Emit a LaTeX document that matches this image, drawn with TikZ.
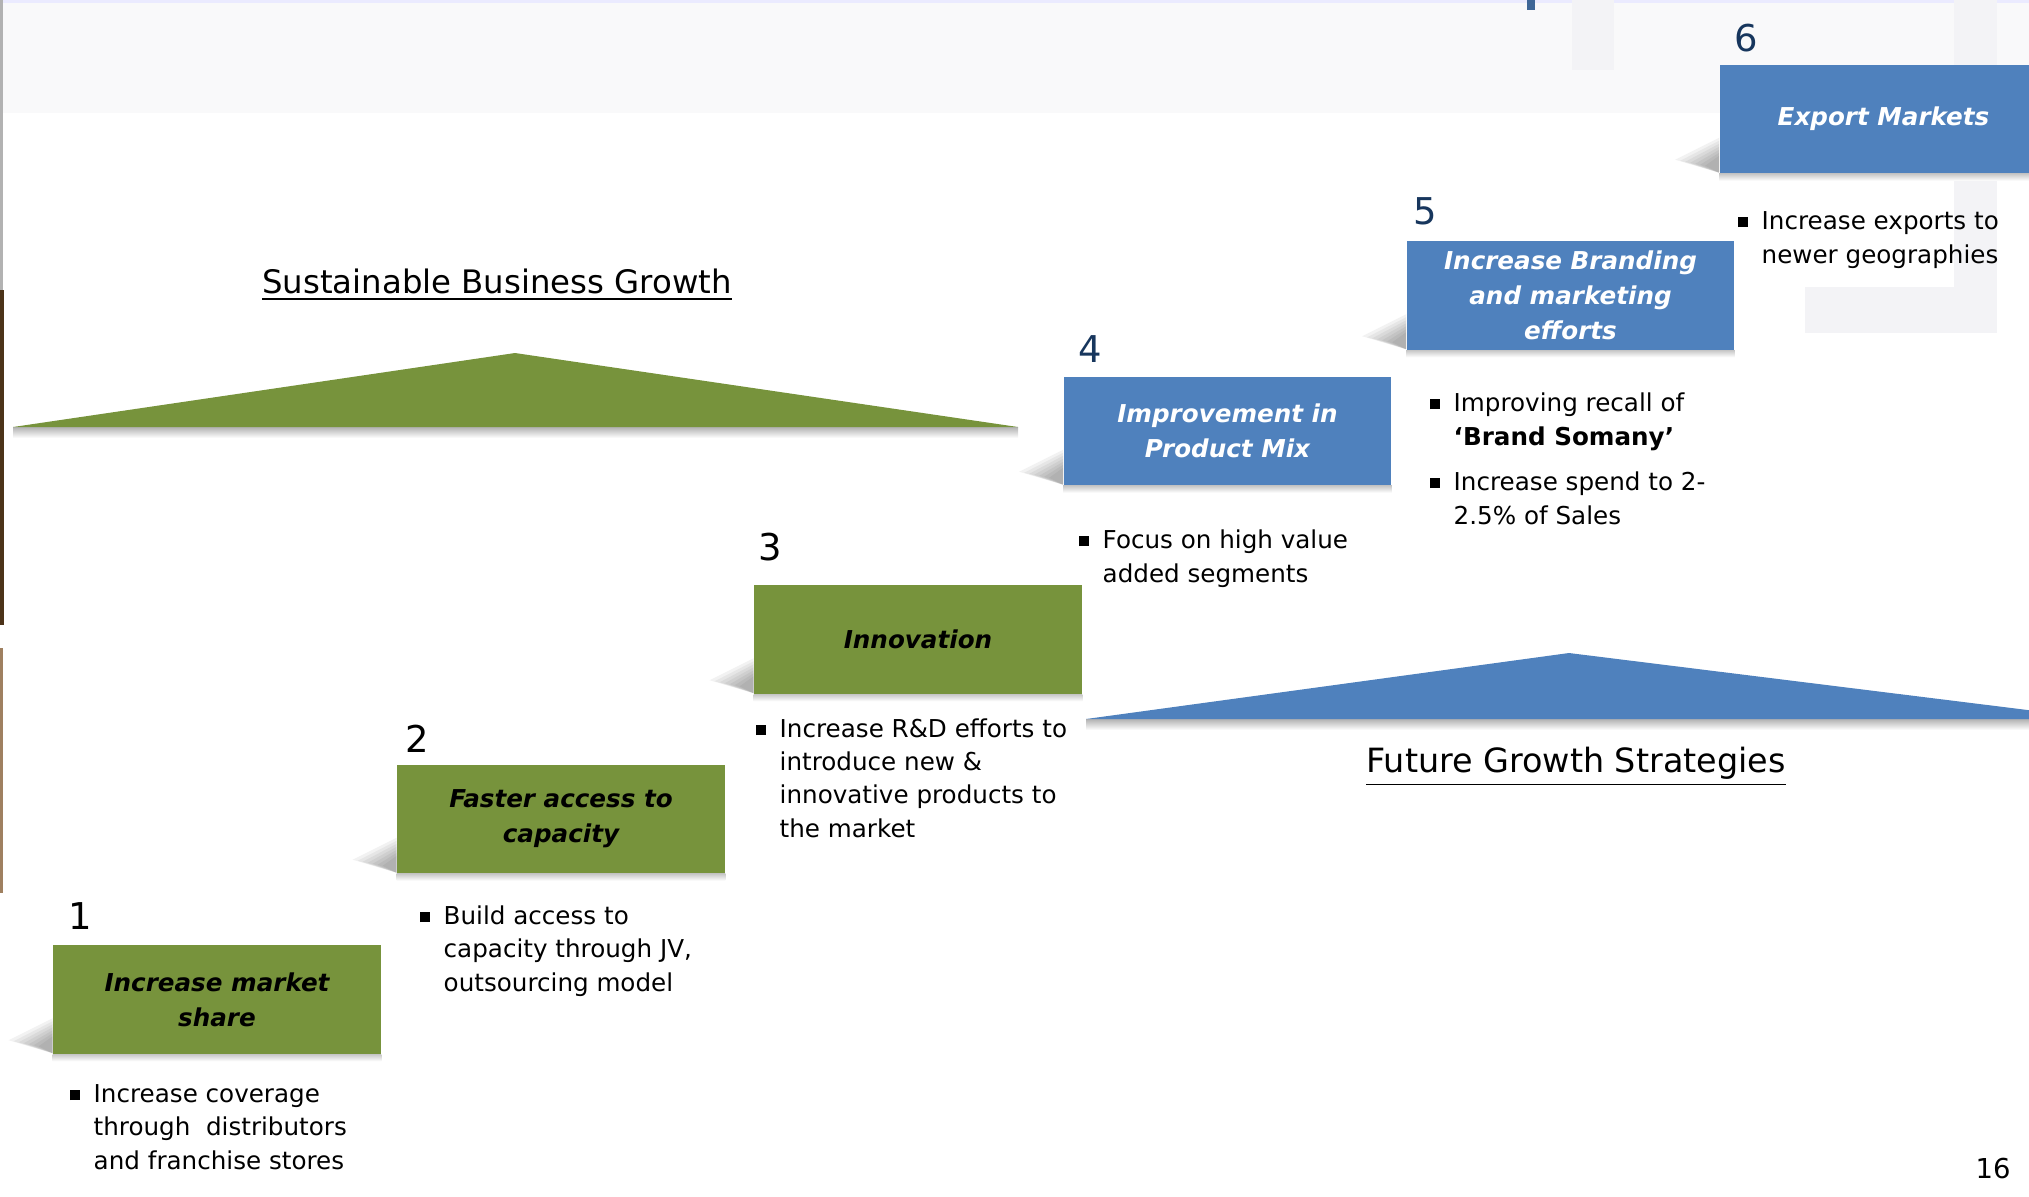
\documentclass[tikz,border=0pt]{standalone}
\usepackage{fontspec}
\setmainfont{DejaVu Sans}
\usetikzlibrary{calc}

\definecolor{stepgreen}{HTML}{77933C}
\definecolor{stepblue}{HTML}{4F81BD}
\definecolor{numblue}{HTML}{17365D}
\definecolor{bandgray}{HTML}{F9F9FA}
\definecolor{framegray}{HTML}{F3F3F6}

% square bullet hanging in the left margin of an item
\newcommand{\sqbullet}{\llap{\rule[0.8pt]{2.8pt}{2.8pt}\hspace{4pt}}}

% soft cast shadow left of a step box
\newcommand{\stepshadow}[1]{%
  \foreach \k in {0,...,6}{
    \fill[black, opacity=0.05]
      ($(#1.south west)+(0,-36+3*\k)$) -- ($(#1.south west)+(-44+5*\k,-14+\k)$)
      -- ($(#1.south west)+(0,-1)$) -- cycle;
  }
  \shade[top color=black!22, bottom color=white]
    (#1.south west) rectangle ($(#1.south east)+(0,7)$);
}

\begin{document}
\begin{tikzpicture}[x=0.01cm, y=-0.01cm]
   \tikzset{
      StepBox/.style={rectangle, minimum width=3.27cm, minimum height=1.08cm,
         inner sep=0pt, align=center,
         font=\fontsize{7pt}{10pt}\selectfont\bfseries\itshape},
      GreenStep/.style={StepBox, fill=stepgreen, text=black},
      BlueStep/.style={StepBox, fill=stepblue, text=white},
      StepNum/.style={inner sep=0pt, font=\fontsize{10.5pt}{12pt}\selectfont},
      % anchored on the baseline of the last line
      BulletText/.style={anchor=base west, align=left, inner sep=0pt,
         font=\fontsize{7pt}{9.4pt}\selectfont},
      Heading/.style={inner sep=0pt, font=\fontsize{9.2pt}{11pt}\selectfont}
   }
   \useasboundingbox (0,0) rectangle (2029,1196);

   % page background
   \fill[bandgray] (0,0) rectangle (2029,113);
   \fill[blue!8] (0,0) rectangle (2029,3);
   \fill[stepblue!80!black] (1527,0) rectangle (1535,10);
   \fill[framegray] (1572,0) rectangle (1614,70);
   \fill[framegray] (1954,0) rectangle (1997,290);
   \fill[framegray] (1805,287) rectangle (1997,333);
   \fill[gray!60] (0,0) rectangle (3,290);
   \fill[brown!40!black] (0,290) rectangle (4,625);
   \fill[brown!50!gray] (0,648) rectangle (3,893);

   % growth triangles
   \shade[top color=black!30, bottom color=white] (13,427) rectangle (1018,438);
   \fill[stepgreen] (13,427) -- (515,353) -- (1018,427) -- cycle;
   \shade[top color=black!30, bottom color=white] (1086,719) rectangle (2029,730);
   \fill[stepblue] (1086,719) -- (1569,653) -- (2100,719) -- cycle;

   \node[Heading] (sbg) at (497,285) {\underline{Sustainable Business Growth}};
   \node[Heading, font=\fontsize{9.5pt}{11pt}\selectfont] (fgs) at (1576,767)
      {\underline{Future Growth Strategies}};

   % the six steps
   \node[GreenStep] (s1) at (217,999.5) {Increase market\\share};
   \node[GreenStep] (s2) at (561,819) {Faster access to\\capacity};
   \node[GreenStep] (s3) at (918,639.5) {Innovation};
   \node[BlueStep] (s4) at (1227.5,431) {Improvement in\\Product Mix};
   \node[BlueStep] (s5) at (1570.5,295.5) {Increase Branding\\and marketing\\efforts};
   \node[BlueStep] (s6) at (1883.5,119) {Export Markets};
   \foreach \s in {s1,s2,s3,s4,s5,s6}
      \stepshadow{\s};

   \node[StepNum] (n1) at (80,916) {1};
   \node[StepNum] (n2) at (417,739) {2};
   \node[StepNum] (n3) at (770,547) {3};
   \node[StepNum, text=numblue] (n4) at (1090,349) {4};
   \node[StepNum, text=numblue] (n5) at (1425,211) {5};
   \node[StepNum, text=numblue] (n6) at (1746,38) {6};

   % bullet points under each step
   \node[BulletText] (t1) at (93,1169)
      {\sqbullet Increase coverage\\through~ distributors\\and franchise stores};
   \node[BulletText] (t2) at (443,991)
      {\sqbullet Build access to\\capacity through JV,\\outsourcing model};
   \node[BulletText] (t3) at (779,837)
      {\sqbullet Increase R\&D efforts to\\introduce new \&\\innovative products to\\the market};
   \node[BulletText] (t4) at (1102,582)
      {\sqbullet Focus on high value\\added segments};
   \node[BulletText] (t5a) at (1453,445)
      {\sqbullet Improving recall of\\\textbf{‘Brand Somany’}};
   \node[BulletText] (t5b) at (1453,524)
      {\sqbullet Increase spend to 2-\\2.5\% of Sales};
   \node[BulletText] (t6) at (1761,263)
      {\sqbullet Increase exports to\\newer geographies};

   \node[inner sep=0pt, font=\fontsize{7.8pt}{9pt}\selectfont] (pg) at (1993,1168) {16};
\end{tikzpicture}
\end{document}
